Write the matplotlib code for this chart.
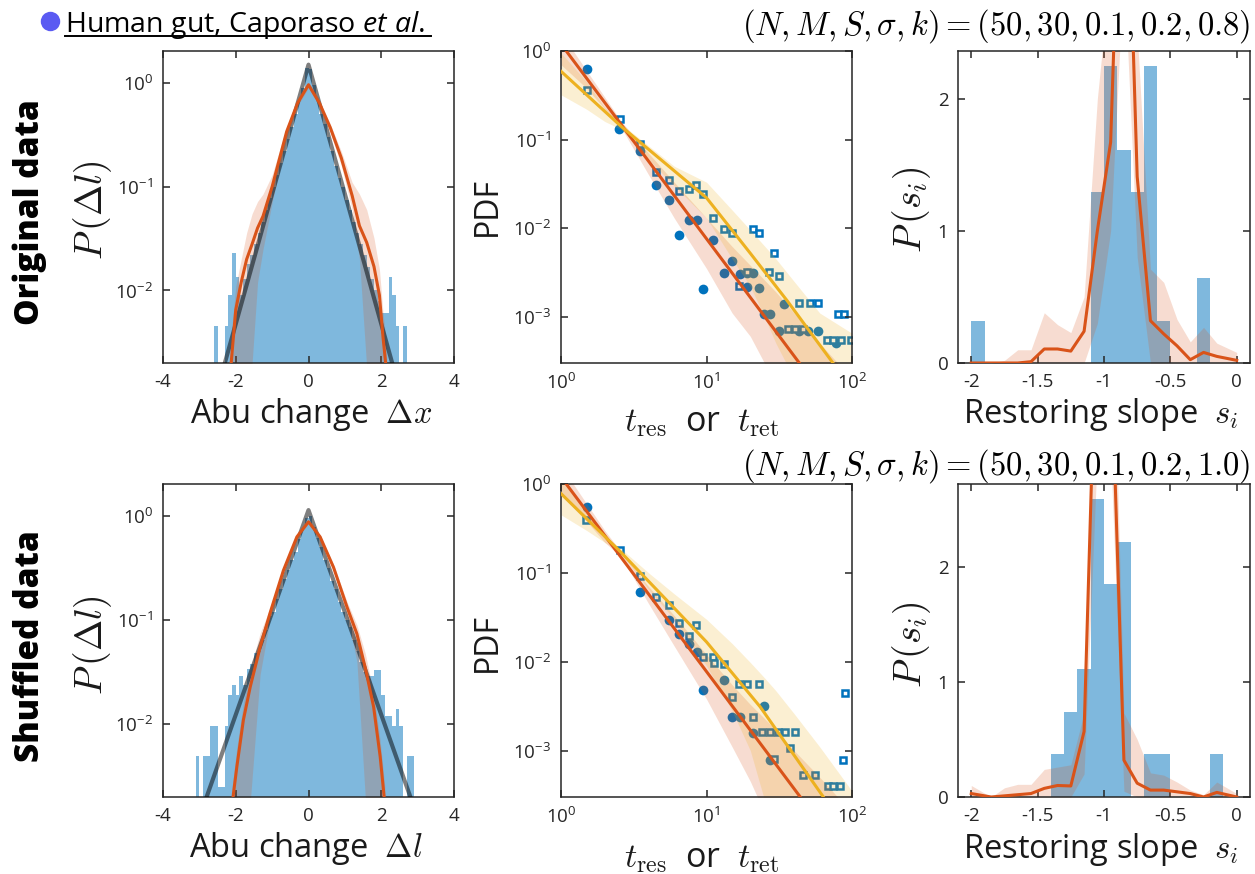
import numpy as np
import matplotlib
matplotlib.use('Agg')
import matplotlib.pyplot as plt
from matplotlib.lines import Line2D

# figure size in pixels (dpi 100)
W, H = 1255, 874

# ---------------- panel 1 : abundance change histograms ----------------
# bin centers (width 0.1) and heights, original data
abu_top_x = np.round(np.arange(-2.65, 2.66, 0.1), 2)
abu_top_h = [0, 0.0045, 0, 0, 0.0045, 0.009, 0.023, 0.0135, 0.009, 0.013,
             0.018, 0.022, 0.028, 0.036, 0.046, 0.06, 0.078, 0.1, 0.13, 0.17,
             0.22, 0.29, 0.38, 0.5, 0.68, 0.9, 1.4,
             1.35, 0.95, 0.68, 0.5, 0.4, 0.3, 0.22, 0.16, 0.12, 0.1,
             0.075, 0.06, 0.046, 0.036, 0.028, 0.022, 0.017, 0.013, 0.01, 0.008,
             0.006, 0.006, 0.0135, 0.009, 0.0045, 0, 0.0045]
# shuffled data
abu_bot_x = np.round(np.arange(-3.05, 2.96, 0.1), 2)
abu_bot_h = [0.0049, 0, 0.0049, 0.0049, 0.0096, 0.0096, 0.0025, 0.0025, 0.0096, 0.019,
             0.024, 0.019, 0.029, 0.024, 0.034, 0.038, 0.048, 0.05, 0.065, 0.08,
             0.11, 0.12, 0.16, 0.2, 0.25, 0.3, 0.38, 0.45, 0.6, 0.75, 0.95,
             1.0, 0.78, 0.62, 0.5, 0.38, 0.32, 0.24, 0.2, 0.15, 0.12,
             0.1, 0.085, 0.065, 0.05, 0.04, 0.032, 0.029, 0.029, 0.033, 0.033,
             0.019, 0.012, 0.012, 0.0096, 0.014, 0.0096, 0, 0.0049, 0.0049, 0]

# Laplace fits (gray lines)
fit_top_x = [-2.4, -1.2, 0, 1.2, 2.4]
fit_top_y = [0.0015, 0.048, 1.5, 0.048, 0.0015]
fit_bot_x = [-2.9, -1.45, 0, 1.45, 2.9]
fit_bot_y = [0.0016, 0.043, 1.14, 0.043, 0.0016]

# model (orange line + band)
mod1_top_x = [-2.15, -2.0, -1.85, -1.7, -1.55, -1.4, -1.25, -1.0, -0.6, -0.3, 0,
              0.3, 0.6, 0.9, 1.2, 1.4, 1.6, 1.8, 1.95, 2.05, 2.15]
mod1_top_y = [0.0016, 0.0065, 0.012, 0.02, 0.028, 0.04, 0.052, 0.1, 0.34, 0.64, 0.96,
              0.64, 0.37, 0.19, 0.082, 0.042, 0.029, 0.017, 0.009, 0.0035, 0.0016]
mod1_top_hi = [0.003, 0.011, 0.02, 0.036, 0.055, 0.072, 0.085, 0.13, 0.38, 0.68, 1.02,
               0.68, 0.4, 0.22, 0.11, 0.085, 0.06, 0.032, 0.016, 0.006, 0.003]
mod1_top_lo = [0.0008, 0.001, 0.0012, 0.0015, 0.002, 0.012, 0.025, 0.07, 0.3, 0.6, 0.9,
               0.6, 0.33, 0.16, 0.06, 0.02, 0.0018, 0.0012, 0.001, 0.0008, 0.0008]

mod1_bot_x = [-2.1, -1.97, -1.79, -1.6, -1.33, -1.06, -0.69, -0.32, 0,
              0.32, 0.69, 1.06, 1.33, 1.56, 1.79, 1.97, 2.1]
mod1_bot_y = [0.0017, 0.0039, 0.011, 0.023, 0.055, 0.116, 0.3, 0.63, 0.88,
              0.63, 0.32, 0.133, 0.074, 0.035, 0.0147, 0.0049, 0.0017]
mod1_bot_hi = [0.0025, 0.006, 0.016, 0.034, 0.075, 0.13, 0.32, 0.66, 0.92,
               0.66, 0.34, 0.15, 0.09, 0.048, 0.02, 0.007, 0.0025]
mod1_bot_lo = [0.0008, 0.001, 0.0015, 0.0018, 0.03, 0.1, 0.28, 0.6, 0.85,
               0.6, 0.3, 0.11, 0.04, 0.002, 0.0015, 0.001, 0.0008]

# ---------------- panel 2 : residence / return times ----------------
res_top_t = [1.51, 2.51, 3.5, 4.51, 5.51, 6.5, 7.56, 8.58, 9.53, 11.05, 13.1, 15.07,
             17.0, 18.9, 21.0, 19.1, 23.1, 24.9, 27.3, 34.1, 31.7, 43.5, 50, 58.7, 77.7]
res_top_p = [0.62, 0.13, 0.075, 0.031, 0.0208, 0.0083, 0.0125, 0.0125, 0.00207, 0.0073,
             0.0031, 0.0042, 0.003, 0.0031, 0.0031, 0.00215, 0.0021, 0.00107, 0.00107,
             0.00139, 0.00069, 0.00069, 0.00069, 0.00069, 0.00051]
ret_top_t = [1.51, 2.55, 3.5, 4.51, 5.53, 6.5, 7.56, 8.5, 9.53, 11.05, 13.1, 14.9,
             21.0, 23.1, 28.9, 18.9, 16.8, 27.0, 31.6, 43.5, 51.5, 58.5, 36.6, 40.5,
             46.0, 67, 74, 84, 80.5, 87.5, 98]
ret_top_p = [0.363, 0.172, 0.089, 0.043, 0.0347, 0.026, 0.028, 0.031, 0.024, 0.0129,
             0.0097, 0.0087, 0.0099, 0.0087, 0.0053, 0.0032, 0.0022, 0.0032, 0.0029,
             0.00144, 0.00144, 0.00144, 0.00072, 0.00072, 0.00072, 0.00054, 0.00054,
             0.00054, 0.00107, 0.00107, 0.00054]
res_bot_t = [1.51, 3.5, 5.53, 6.5, 7.56, 8.6, 9.53, 13.1, 15.07, 17.0, 24.9, 21.0, 27.3]
res_bot_p = [0.55, 0.061, 0.0294, 0.0204, 0.016, 0.0129, 0.0048, 0.0063, 0.0024,
             0.0024, 0.0032, 0.00157, 0.00079]
ret_bot_t = [1.49, 2.55, 3.5, 4.51, 5.53, 6.5, 7.56, 8.5, 9.53, 11.05, 11.2, 13.1,
             14.9, 16.8, 18.9, 23.1, 21.0, 24.1, 27.3, 31.1, 34.7, 40.5, 28.9, 37.6,
             46.3, 55.6, 68.5, 74.5, 82.6, 86.6, 89.5]
ret_bot_p = [0.395, 0.18, 0.091, 0.054, 0.0434, 0.0274, 0.0194, 0.0258, 0.0113, 0.0113,
             0.0097, 0.0095, 0.004, 0.0056, 0.0056, 0.0056, 0.0024, 0.0016, 0.0016,
             0.0016, 0.0016, 0.0016, 0.0008, 0.00107, 0.00053, 0.00053, 0.0004, 0.0004,
             0.0004, 0.00079, 0.0044]

# power-law fits (orange: residence, yellow: return)
pow_top_x = [1, 100]
pow_top_y = [1.2, 4.8e-5]
yel_top_x = [1, 2.6, 5, 10, 20, 36, 74, 100]
yel_top_y = [0.59, 0.14, 0.057, 0.022, 0.0052, 0.0015, 0.0003, 0.00016]
pow_bot_x = [1, 100]
pow_bot_y = [1.2, 5.0e-5]
yel_bot_x = [1, 2.55, 10, 23.4, 63.6, 100]
yel_bot_y = [0.78, 0.174, 0.0167, 0.0031, 0.0003, 0.0001]

band_t = [1, 1.5, 2, 2.6, 4, 6, 10, 15, 20, 25, 30, 40, 60, 100]
org_top_hi = [1.6, 0.6, 0.3, 0.16, 0.07, 0.033, 0.013, 0.0062, 0.0038, 0.0026, 0.0019, 0.0011, 0.0005, 0.0002]
org_top_lo = [0.7, 0.38, 0.22, 0.135, 0.04, 0.013, 0.0035, 0.0011, 0.0006, 0.0003, 0.00015, 6e-5, 2e-5, 1e-5]
yel_top_hi = [0.95, 0.45, 0.23, 0.15, 0.085, 0.05, 0.033, 0.016, 0.0095, 0.0063, 0.0045, 0.0025, 0.0011, 0.00065]
yel_top_lo = [0.32, 0.22, 0.16, 0.13, 0.06, 0.03, 0.013, 0.0045, 0.0022, 0.001, 0.0005, 0.0002, 5e-5, 3e-5]
org_bot_hi = [1.6, 0.6, 0.3, 0.17, 0.07, 0.033, 0.012, 0.0055, 0.0033, 0.0023, 0.0017, 0.001, 0.0005, 0.0002]
org_bot_lo = [0.75, 0.38, 0.22, 0.15, 0.045, 0.015, 0.0038, 0.0011, 0.00045, 0.0002, 0.0001, 5e-5, 2e-5, 1e-5]
yel_bot_hi = [1.2, 0.5, 0.26, 0.185, 0.1, 0.058, 0.03, 0.016, 0.0098, 0.0066, 0.0047, 0.0026, 0.0011, 0.00035]
yel_bot_lo = [0.45, 0.3, 0.22, 0.165, 0.065, 0.03, 0.009, 0.0028, 0.001, 0.00028, 0.00012, 5e-5, 2e-5, 1e-5]

# ---------------- panel 3 : restoring slopes ----------------
slope_x = np.round(np.arange(-1.95, 0, 0.1), 2)
slope_top_h = [0.32, 0, 0, 0, 0, 0, 0, 0, 0, 1.29, 2.25, 1.61, 1.29, 2.25, 0.32, 0, 0, 0.64, 0, 0]
slope_bot_h = [0, 0, 0, 0, 0, 0, 0.37, 0.74, 1.11, 2.59, 1.85, 2.22, 0, 0.37, 0.37, 0, 0, 0, 0.37, 0]

sl_x = [-2.0, -1.85, -1.75, -1.65, -1.55, -1.45, -1.35, -1.25, -1.15, -1.05, -0.95,
        -0.85, -0.75, -0.65, -0.55, -0.45, -0.35, -0.25, -0.15, 0.0]
sl_top_y = [0, 0, 0, 0.0, 0.01, 0.106, 0.106, 0.09, 0.24, 1.0, 1.67, 4.7, 1.41, 0.32,
            0.22, 0.13, 0.025, 0.08, 0.05, 0.02]
sl_top_hi = [0, 0, 0.02, 0.1, 0.1, 0.38, 0.29, 0.23, 0.5, 2.0, 3.0, 5.5, 2.5, 0.71,
             0.61, 0.33, 0.16, 0.27, 0.15, 0.08]
sl_top_lo = [0, 0, 0, 0, 0, 0, 0, 0, 0, 0.3, 1.0, 3.0, 0.8, 0, 0, 0, 0, 0, 0, 0]
sl_bot_y = [0.03, 0.0, 0.01, 0.02, 0.03, 0.075, 0.1, 0.096, 0.57, 4.5, 4.0, 0.32, 0.12,
            0.06, 0.06, 0.045, 0.03, 0.0, 0.04, 0.0]
sl_bot_hi = [0.1, 0.0, 0.08, 0.11, 0.11, 0.24, 0.26, 0.28, 0.73, 5.0, 5.0, 0.73, 0.5,
             0.21, 0.19, 0.13, 0.06, 0.02, 0.13, 0.03]
sl_bot_lo = [0, 0, 0, 0, 0, 0, 0, 0, 0.2, 3.0, 3.0, 0.05, 0, 0, 0, 0, 0, 0, 0, 0]

BLUE = '#0072BD'
ORANGE = '#D95319'
YELLOW = '#EDB120'
DARK = '#262626'

plt.rcParams['font.family'] = 'Open Sans'
plt.rcParams['mathtext.fontset'] = 'custom'
plt.rcParams['mathtext.rm'] = 'Open Sans'
plt.rcParams['mathtext.it'] = 'Open Sans:italic'
plt.rcParams['mathtext.bf'] = 'Open Sans:bold'
plt.rcParams['axes.unicode_minus'] = False

fig = plt.figure(figsize=(W / 100, H / 100), dpi=100)


def rect(left, top, right, bottom):
    return [left / W, 1 - bottom / H, (right - left) / W, (bottom - top) / H]


def style(ax):
    ax.tick_params(which='both', direction='in', length=5, width=1.1, top=True,
                   right=True, labelsize=13.5, colors=DARK, pad=7)
    for s in ax.spines.values():
        s.set_linewidth(1.1)
        s.set_color(DARK)


def sup(e):
    return r'$\mathregular{10^{%d}}$' % e


rows = [(51, 363), (484, 797)]
for r, (top, bot) in enumerate(rows):
    # ---- panel 1
    ax = fig.add_axes(rect(163, top, 454, bot))
    if r == 0:
        hx, hh, fx, fy = abu_top_x, abu_top_h, fit_top_x, fit_top_y
        mx, my, mhi, mlo = mod1_top_x, mod1_top_y, mod1_top_hi, mod1_top_lo
    else:
        hx, hh, fx, fy = abu_bot_x, abu_bot_h, fit_bot_x, fit_bot_y
        mx, my, mhi, mlo = mod1_bot_x, mod1_bot_y, mod1_bot_hi, mod1_bot_lo
    ax.set_yscale('log')
    ax.bar(hx, hh, width=0.1, bottom=1e-6, color=BLUE, alpha=0.5, linewidth=0, zorder=1)
    ax.fill_between(mx, mlo, mhi, color=ORANGE, alpha=0.2, linewidth=0, zorder=2)
    ax.plot(fx, fy, color='black', alpha=0.5, lw=3, zorder=3)
    ax.plot(mx, my, color=ORANGE, lw=2.2, zorder=4)
    ax.set_xlim(-4, 4)
    ax.set_ylim(0.002, 2.03)
    ax.set_xticks([-4, -2, 0, 2, 4])
    ax.set_yticks([1e-2, 1e-1, 1])
    ax.set_yticklabels([sup(-2), sup(-1), sup(0)])
    ax.minorticks_off()
    style(ax)

    # ---- panel 2
    ax = fig.add_axes(rect(561, top, 852, bot))
    if r == 0:
        rt, rp, qt, qp = res_top_t, res_top_p, ret_top_t, ret_top_p
        px_, py_, yx, yy = pow_top_x, pow_top_y, yel_top_x, yel_top_y
        ohi, olo, yhi, ylo = org_top_hi, org_top_lo, yel_top_hi, yel_top_lo
    else:
        rt, rp, qt, qp = res_bot_t, res_bot_p, ret_bot_t, ret_bot_p
        px_, py_, yx, yy = pow_bot_x, pow_bot_y, yel_bot_x, yel_bot_y
        ohi, olo, yhi, ylo = org_bot_hi, org_bot_lo, yel_bot_hi, yel_bot_lo
    ax.set_xscale('log')
    ax.set_yscale('log')
    ax.plot(rt, rp, 'o', color=BLUE, ms=7, mec='none', zorder=1)
    ax.plot(qt, qp, 's', mfc='white', mec=BLUE, mew=1.8, ms=5, zorder=1)
    ax.fill_between(band_t, olo, ohi, color=ORANGE, alpha=0.2, linewidth=0, zorder=2)
    ax.fill_between(band_t, ylo, yhi, color=YELLOW, alpha=0.2, linewidth=0, zorder=2)
    ax.plot(px_, py_, color=ORANGE, lw=2.2, zorder=3)
    ax.plot(yx, yy, color=YELLOW, lw=2.2, zorder=3)
    ax.set_xlim(1, 100)
    ax.set_ylim(3e-4, 1)
    ax.set_xticks([1, 10, 100])
    ax.set_xticklabels([sup(0), sup(1), sup(2)])
    ax.set_yticks([1e-3, 1e-2, 1e-1, 1])
    ax.set_yticklabels([sup(-3), sup(-2), sup(-1), sup(0)])
    ax.minorticks_off()
    style(ax)

    # ---- panel 3
    ax = fig.add_axes(rect(958, top, 1250, bot))
    if r == 0:
        sh, sy, shi, slo, ymax = slope_top_h, sl_top_y, sl_top_hi, sl_top_lo, 2.36
    else:
        sh, sy, shi, slo, ymax = slope_bot_h, sl_bot_y, sl_bot_hi, sl_bot_lo, 2.72
    ax.bar(slope_x, sh, width=0.1, color=BLUE, alpha=0.5, linewidth=0, zorder=1)
    ax.fill_between(sl_x, slo, shi, color=ORANGE, alpha=0.2, linewidth=0, zorder=2)
    ax.plot(sl_x, sy, color=ORANGE, lw=2.2, zorder=3)
    ax.set_xlim(-2.1, 0.1)
    ax.set_ylim(0, ymax)
    ax.set_xticks([-2, -1.5, -1, -0.5, 0])
    ax.set_xticklabels(['-2', '-1.5', '-1', '-0.5', '0'])
    ax.set_yticks([0, 1, 2])
    style(ax)

# ---------------- labels ----------------
lab = dict(fontsize=23.5, color='#1a1a1a', math_fontfamily='cm')
for r, dy in enumerate([0, 435]):
    fig.text(93 / W, 1 - (210 + dy) / H, r'$P\,(\Delta l)$', rotation=90,
             ha='center', va='center', fontsize=27, color='#1a1a1a', math_fontfamily='cm')
    fig.text(487 / W, 1 - (207 + dy) / H, 'PDF', rotation=90, ha='center',
             va='center', fontsize=23, color='#1a1a1a')
    fig.text(912 / W, 1 - (210 + dy) / H, r'$P\,(s_i)$', rotation=90,
             ha='center', va='center', fontsize=27, color='#1a1a1a', math_fontfamily='cm')

fig.text(311 / W, 1 - 423 / H, r'Abu change  $\Delta x$', ha='center', va='baseline', **lab)
fig.text(306 / W, 1 - 857 / H, r'Abu change  $\Delta l$', ha='center', va='baseline', **lab)
fig.text(702 / W, 1 - 431 / H, r'$t_{\rm res}$  or  $t_{\rm ret}$', ha='center',
         va='baseline', fontsize=24.5, color='#1a1a1a', math_fontfamily='cm')
fig.text(702 / W, 1 - 867 / H, r'$t_{\rm res}$  or  $t_{\rm ret}$', ha='center',
         va='baseline', fontsize=24.5, color='#1a1a1a', math_fontfamily='cm')
fig.text(1101 / W, 1 - 423 / H, r'Restoring slope  $s_i$', ha='center', va='baseline', **lab)
fig.text(1101 / W, 1 - 858 / H, r'Restoring slope  $s_i$', ha='center', va='baseline', **lab)

fig.text(30 / W, 1 - 212 / H, 'Original data', rotation=90, ha='center', va='center',
         fontsize=24, fontweight='heavy', color='black')
fig.text(30 / W, 1 - 646 / H, 'Shuffled data', rotation=90, ha='center', va='center',
         fontsize=24, fontweight='heavy', color='black')

fig.text(1250 / W, 1 - 26 / H, r'$(N,M,S,\sigma,k)=(50,30,0.1,0.2,0.8)$', ha='right',
         va='center', fontsize=23.5, color='black', math_fontfamily='cm')
fig.text(1250 / W, 1 - 466 / H, r'$(N,M,S,\sigma,k)=(50,30,0.1,0.2,1.0)$', ha='right',
         va='center', fontsize=23.5, color='black', math_fontfamily='cm')

# header with dot and underline
fig.add_artist(Line2D([50 / W], [1 - 21 / H], marker='o', ms=14, color='#5a5af2',
                      mec='none', transform=fig.transFigure))
fig.text(65 / W, 1 - 32 / H, r'Human gut, Caporaso $\mathit{et\ al.}$', ha='left',
         va='baseline', fontsize=20.5, color='black')
fig.add_artist(Line2D([65 / W, 431 / W], [1 - 36 / H, 1 - 36 / H], color='black',
                      lw=1.4, transform=fig.transFigure))

fig.savefig('out.png', dpi=100)
